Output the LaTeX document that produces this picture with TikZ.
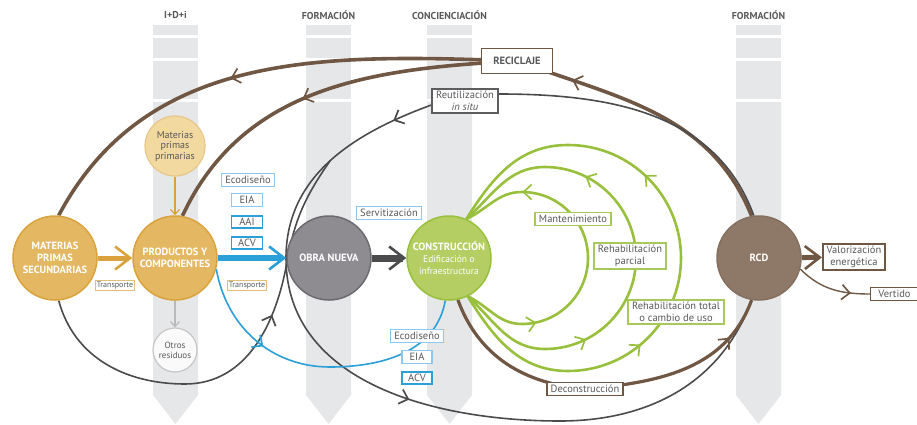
\documentclass[tikz,border=0pt]{standalone}
\usepackage{fontspec}
\setmainfont{PT Sans}
\usetikzlibrary{arrows.meta,decorations.markings}

\definecolor{colgray}{HTML}{E6E7E8}
\definecolor{txtgray}{HTML}{58595B}
\definecolor{goldfill}{HTML}{E4B863}
\definecolor{goldline}{HTML}{D9A23C}
\definecolor{palegold}{HTML}{F1D9A0}
\definecolor{obrafill}{HTML}{8E8C91}
\definecolor{obraline}{HTML}{6D6B70}
\definecolor{greenfill}{HTML}{B4CE63}
\definecolor{greenline}{HTML}{98C03C}
\definecolor{rcdfill}{HTML}{8E7968}
\definecolor{brownline}{HTML}{6F5743}
\definecolor{darkline}{HTML}{4B4B4D}
\definecolor{blueline}{HTML}{2A9FD8}
\definecolor{lightblue}{HTML}{8CC8EE}

\pgfdeclarelayer{back}
\pgfsetlayers{back,main}

\tikzset{
    barb/.tip={Straight Barb[length=8pt,width=15pt,line width=1.7pt]},
    big barb/.tip={Straight Barb[length=15pt,width=23pt,line width=2.6pt]},
    small barb/.tip={Straight Barb[length=5pt,width=9pt,line width=1.2pt]},
    mid arrow/.style={postaction={decorate,decoration={markings,
        mark=at position #1 with {\arrow{barb}}}}},
    column title/.style={text=txtgray,font=\bfseries\fontsize{10}{11}\selectfont},
    stage/.style={circle,minimum size=84pt,inner sep=0pt,line width=1.5pt,
        align=center,text=white,font=\bfseries\fontsize{10.5}{12}\selectfont},
    small stage/.style={circle,inner sep=0pt,line width=1.2pt,
        align=center,text=txtgray,font=\fontsize{10}{10.5}\selectfont},
    label box/.style={draw,fill=white,line width=1.4pt,inner xsep=4pt,inner ysep=2.5pt,
        align=center,text=txtgray,font=\fontsize{10.5}{11.5}\selectfont},
    tag box/.style={label box,draw=goldline!70,line width=.8pt,inner xsep=1.5pt,
        inner ysep=1.5pt,font=\fontsize{8}{9}\selectfont},
    blue box/.style={label box,draw=lightblue},
    blue box strong/.style={label box,draw=blueline,line width=1.8pt},
    green box/.style={label box,draw=greenline!85},
    brown box/.style={label box,draw=brownline,line width=1.6pt},
    recycle/.style={draw=brownline,line width=3.6pt},
    reuse/.style={draw=darkline,line width=1.6pt},
    supply/.style={draw=blueline,line width=1.6pt},
    renew/.style={draw=greenline,line width=2.6pt}
}

\begin{document}
\begin{tikzpicture}[x=1pt,y=1pt]
    \useasboundingbox (0,0) rectangle (917,-425);

    % stages of the cycle
    \node[stage,fill=goldfill,draw=goldline] (MPS) at (55,-258) {MATERIAS\\PRIMAS\\SECUNDARIAS};
    \node[stage,fill=goldfill,draw=goldline] (PyC) at (175,-258) {PRODUCTOS Y\\COMPONENTES};
    \node[small stage,minimum size=60pt,fill=palegold,draw=goldline!60] (MPP) at (175,-146) {Materias\\primas\\primarias};
    \node[small stage,minimum size=44pt,fill=gray!4,draw=gray!45,font=\fontsize{9}{10}\selectfont] (OR) at (175,-350) {Otros\\residuos};
    \node[stage,fill=obrafill,draw=obraline] (ON) at (329,-258) {OBRA NUEVA};
    \node[stage,fill=greenfill,draw=greenline] (CON) at (449,-258)
        {CONSTRUCCIÓN\\{\mdseries\fontsize{9.5}{11}\selectfont Edificación o}\\{\mdseries\fontsize{9.5}{11}\selectfont infraestructura}};
    \node[stage,fill=rcdfill,draw=brownline!85] (RCD) at (759,-258) {RCD};

    % labels
    \node[tag box] (T1) at (115,-285) {Transporte};
    \node[tag box] (T2) at (247,-285) {Transporte};
    \node[blue box] (ECO1) at (248,-180) {Ecodiseño};
    \node[blue box,minimum width=31pt] (EIA1) at (247,-200) {EIA};
    \node[blue box strong,minimum width=31pt] (AAI) at (247,-222) {AAI};
    \node[blue box strong,minimum width=31pt] (ACV1) at (247,-243) {ACV};
    \node[blue box] (SER) at (389,-213) {Servitización};
    \node[blue box] (ECO2) at (417,-336) {Ecodiseño};
    \node[blue box,minimum width=30pt] (EIA2) at (417,-357) {EIA};
    \node[blue box strong,minimum width=30pt] (ACV2) at (417,-378) {ACV};
    \node[brown box,font=\bfseries\fontsize{10.5}{11.5}\selectfont,minimum width=71pt,minimum height=25pt] (REC) at (517,-61) {RECICLAJE};
    \node[label box,draw=darkline!90] (REU) at (465,-101) {Reutilización\\\textit{in situ}};
    \node[green box] (MAN) at (573,-219) {Mantenimiento};
    \node[green box] (RP) at (630,-256) {Rehabilitación\\parcial};
    \node[green box] (RT) at (676,-312) {Rehabilitación total\\o cambio de uso};
    \node[brown box] (VAL) at (854,-257) {Valorización\\energética};
    \node[brown box,line width=1pt,minimum width=48pt,anchor=west] (VER) at (870,-294) {Vertido};
    \node[brown box] (DEC) at (585,-389) {Deconstrucción};

    \coordinate (reuse west) at (286,-258);
    \coordinate (reuse low) at (560,-421);
    \coordinate (mps low) at (185,-384);
    \coordinate (mps rise) at (287,-262);
    \coordinate (merge) at (330,-161);
    \coordinate (blue low) at (330,-367);

    \begin{pgfonlayer}{back}
        % columns
        \foreach \x/\title in {153/I+D+i,306/FORMACIÓN,427/CONCIENCIACIÓN,736/FORMACIÓN} {
            \fill[colgray] (\x,-25) rectangle ++(45,-10);
            \fill[colgray] (\x,-38) rectangle ++(45,-20);
            \fill[colgray] (\x,-61) rectangle ++(45,-38);
            \fill[colgray] (\x,-102) -- ++(45,0) -- ++(0,-293) -- ++(-22.5,-29) -- ++(-22.5,29) -- cycle;
            \node[column title] (title\x) at (\x+22.5,-15) {\title};
        }

        % recycling back to raw materials and products
        \draw[recycle,mid arrow=0.8] (RCD.100) to[out=112,in=-20] (REC.center);
        \draw[recycle,mid arrow=0.56] (REC.center) to[out=178,in=62] (MPS.85);
        \draw[recycle,mid arrow=0.56] (REC.center) to[out=183,in=65] (PyC.80);

        % reuse in situ
        \draw[reuse] (RCD.97) to[out=110,in=0] ([yshift=7pt]REU.east);
        \draw[reuse,mid arrow=0.05,mid arrow=0.52] ([yshift=-4pt]REU.west) to[out=200,in=90] (reuse west)
            to[out=-90,in=180] (reuse low) to[out=0,in=-110] (RCD.-100);
        \draw[reuse,mid arrow=0.63] (MPS.-85) to[out=-75,in=180] (mps low) to[out=0,in=-100] (mps rise)
            to[out=80,in=235] (merge);

        % supply of products
        \draw[supply,mid arrow=0.3] (PyC.-15) to[out=-80,in=180] (blue low) to[out=0,in=-100] (CON.-95);

        % maintenance and rehabilitation loops
        \foreach \cx/\r/\ang/\pa/\pb in {522/66/25/0.23/0.81,545/91/42/0.29/0.71,568/113/58/0.34/0.65}
            \draw[renew,mid arrow=\pa,mid arrow=\pb] (CON.-64) to[out=-\ang,in=180] (\cx,-258-\r)
                arc[start angle=-90,end angle=90,radius=\r] to[out=180,in=\ang] (CON.66);

        % deconstruction
        \draw[recycle,line width=3.2pt,mid arrow=0.88] (CON.-78) to[out=-70,in=175] (DEC.center)
            to[out=5,in=-110] (RCD.-100);

        % main flow
        \draw[goldline,line width=5pt,-{big barb}] (MPS) -- (PyC);
        \draw[blueline,line width=5.5pt,-{big barb}] (PyC) -- (ON);
        \draw[darkline,line width=7pt,-{big barb}] (ON) -- (CON);
        \draw[brownline,line width=5pt,-{big barb}] (RCD) -- (VAL);
        \draw[goldline,line width=1.5pt,-{small barb}] (MPP) -- (PyC);
        \draw[gray!55,line width=1.3pt,-{small barb}] (PyC) -- (OR);
        \draw[brownline,line width=1.4pt,mid arrow=0.75] (RCD.-15) to[out=-45,in=180] (VER.west);
    \end{pgfonlayer}
\end{tikzpicture}
\end{document}
